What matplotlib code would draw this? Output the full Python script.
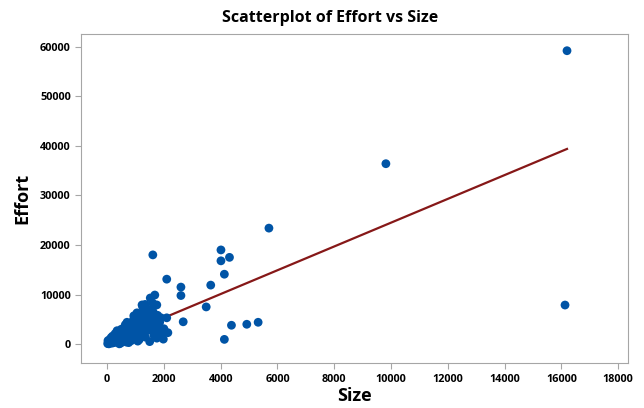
import numpy as np
import matplotlib.pyplot as plt

plt.rcParams['font.family'] = ['Open Sans', 'DejaVu Sans']

# outlying projects
size_out = [16200, 16130, 9820, 5700, 1610, 4010, 4010, 4310, 4130, 2100, 3650, 2600, 2600,
            3490, 2680, 4380, 4920, 5320, 4130, 1750, 2100, 2140]
effort_out = [59200, 7880, 36400, 23400, 18000, 19000, 16800, 17500, 14100, 13100, 11900, 11500, 9800,
              7500, 4500, 3800, 4000, 4400, 950, 1200, 5300, 2300]

# dense cluster of small projects
size_cl = [20, 50, 80, 100, 120, 150, 180, 200, 220, 250, 270, 300, 300, 30, 60, 90, 140, 190, 230, 280,
           320, 350, 380, 400, 420, 450, 480, 500, 520, 550, 580, 600, 350, 430, 470, 560, 590,
           620, 650, 680, 700, 720, 750, 780, 800, 820, 850, 880, 900, 640, 700, 760, 860, 890,
           920, 950, 980, 1000, 1020, 1050, 1080, 1100, 1120, 1150, 1180, 1200, 940, 1050, 1130, 1190,
           1230, 1250, 1280, 1300, 1320, 1350, 1380, 1400, 1420, 1450, 1480, 1500, 1260, 1340, 1440, 1490,
           1520, 1550, 1580, 1600, 1620, 1650, 1680, 1700, 1720, 1750, 1780, 1800, 1820, 1850, 1900, 1920,
           2000, 1980, 1560, 1600, 1700]
effort_cl = [100, 300, 150, 600, 400, 900, 200, 1200, 700, 1500, 500, 1000, 1800, 700, 50, 900, 1300, 1600, 300, 2100,
             400, 1400, 2200, 800, 2600, 1800, 200, 3000, 1200, 2400, 600, 3300, 2700, 50, 1000, 1600, 2000,
             1500, 2800, 400, 3600, 2000, 1000, 3100, 4000, 2400, 700, 3500, 1800, 3900, 4400, 300, 4300, 2800,
             4800, 3000, 1200, 3800, 2200, 5200, 600, 4200, 2800, 6000, 1800, 3500, 5700, 6300, 900, 4800,
             7900, 5500, 2500, 4200, 6800, 1400, 3500, 5800, 7000, 2800, 4600, 500, 7400, 8000, 6200, 3600,
             9300, 5200, 3000, 4400, 6500, 1800, 9900, 4900, 2600, 7900, 5800, 3700, 1500, 4400, 5300, 2200,
             3100, 1000, 7000, 8300, 3400]

# fitted regression line
fit_b0 = 500
fit_b1 = 2.40

size = np.array(size_out + size_cl)
effort = np.array(effort_out + effort_cl)

fig = plt.figure(figsize=(6.44, 4.08), dpi=100)
ax = fig.add_axes([0.126, 0.110, 0.849, 0.807])

xs = np.array([size.min(), size.max()])
ax.plot(xs, fit_b0 + fit_b1 * xs, color='#861818', lw=1.6, zorder=2)
ax.scatter(size, effort, s=40, color='#0054A6', edgecolors='none', zorder=3)

ax.set_xlim(-915, 18345)
ax.set_ylim(-3840, 62600)
ax.set_xticks(np.arange(0, 18001, 2000))
ax.set_yticks(np.arange(0, 60001, 10000))

for sp in ['top', 'right', 'left', 'bottom']:
    ax.spines[sp].set_color('#A6A6A6')
ax.tick_params(direction='out', color='#A6A6A6', length=4, labelsize=7.8)
for lab in ax.get_xticklabels() + ax.get_yticklabels():
    lab.set_fontweight('bold')

ax.set_xlabel('Size', fontsize=13, fontweight='bold', labelpad=2)
ax.set_ylabel('Effort', fontsize=13, fontweight='bold', labelpad=6)
fig.text(0.512, 0.955, 'Scatterplot of Effort vs Size', ha='center', va='center',
         fontsize=11.5, fontweight='bold')

fig.savefig('out.png', dpi=100)
